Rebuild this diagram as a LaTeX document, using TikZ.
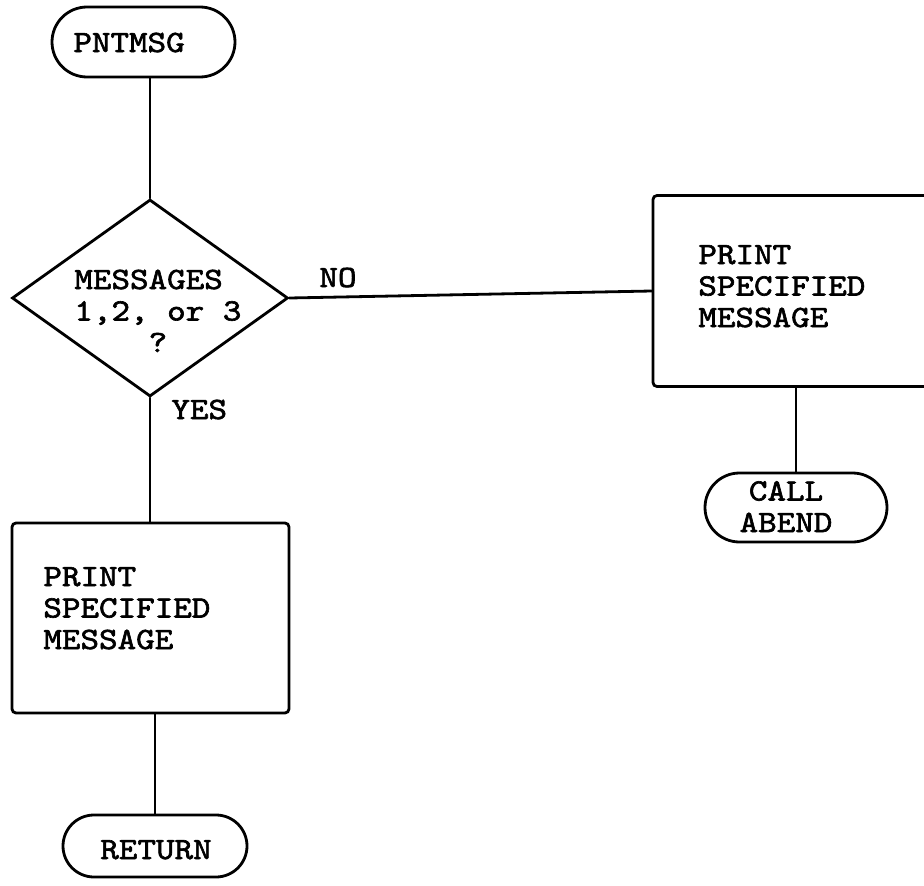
\documentclass[tikz,border=0pt]{standalone}
\usepackage{fontspec}
\newfontfamily\typefont[FakeBold=2,FakeStretch=1.14]{lmmono10-regular.otf}
\usetikzlibrary{shapes.geometric}
\begin{document}
\begin{tikzpicture}[x=1pt,y=-1pt,line width=2.8pt,
  txt/.style={font=\typefont\fontsize{31}{31.5}\selectfont,inner sep=0pt},
  term/.style={draw,rectangle,rounded corners=#1,inner sep=0pt},
  procbox/.style={draw,rectangle,rounded corners=4pt,inner sep=0pt,minimum width=277pt,minimum height=191pt},
  decision/.style={draw,diamond,inner sep=0pt,minimum width=276pt,minimum height=197pt},
  conn/.style={line cap=round}]
\useasboundingbox (0,0) rectangle (924,886);
\clip (0,0) rectangle (924,886);
% shapes
\node[term=35pt,minimum width=183pt,minimum height=70pt] (start) at (143.5,42) {};
\node[decision] (dec) at (150,298) {};
\node[procbox] (boxR) at (791.5,291) {};
\node[procbox,minimum height=190pt] (boxL) at (150.5,618) {};
\node[term=34.5pt,minimum width=182pt,minimum height=69pt] (abend) at (796,507.5) {};
\node[term=31pt,minimum width=184pt,minimum height=62pt] (ret) at (155,846) {};
% texts (multi-line nodes: base = last line)
\node[txt,anchor=base west] (tstart) at (72,52) {PNTMSG};
\node[txt,anchor=base west,align=left] (tdec) at (73,352) {MESSAGES\\1,2, or 3\\\hphantom{1,2,}?};
\node[txt,anchor=base west] (tno) at (318,287) {NO};
\node[txt,anchor=base west] (tyes) at (170,419) {YES};
\node[txt,anchor=base west,align=left] (tboxR) at (697,327) {PRINT\\SPECIFIED\\MESSAGE};
\node[txt,anchor=base west,align=left] (tboxL) at (42,649) {PRINT\\SPECIFIED\\MESSAGE};
\node[txt,anchor=base,align=center] (tabend) at (786,532) {CALL\\ABEND};
\node[txt,anchor=base] (tret) at (156,859) {RETURN};
% connectors
\draw[conn] (dec.north) -- (dec.north |- start.south);
\draw[conn] (dec.east) -- (boxR.west);
\draw[conn] (abend.north) -- (abend.north |- boxR.south);
\draw[conn] (dec.south) -- (dec.south |- boxL.north);
\draw[conn] (ret.north) -- (ret.north |- boxL.south);
\end{tikzpicture}
\end{document}
